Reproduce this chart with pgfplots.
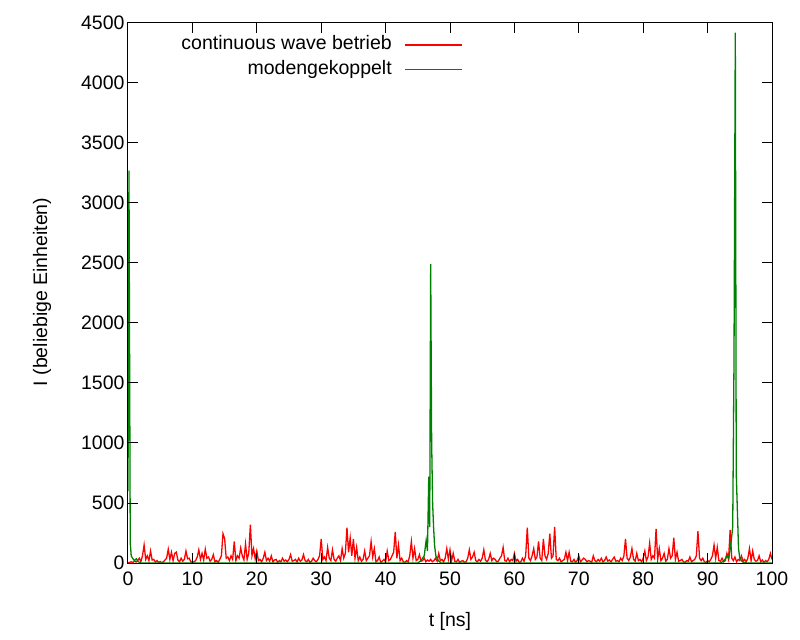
\documentclass[border=0pt]{standalone}
\usepackage{fontspec}
\setmainfont{Liberation Sans}
\usepackage{pgfplots}
\pgfplotsset{compat=1.18}
\definecolor{gpgreen}{RGB}{0,128,0}
\begin{document}
\begin{tikzpicture}
\begin{axis}[
 scale only axis, width=644bp, height=540bp,
 xmin=0,xmax=100,ymin=0,ymax=4500,
 xtick={0,10,...,100}, ytick={0,500,...,4500},
 tick align=inside, tick pos=both, major tick length=10bp,
 axis line style={line width=1bp}, tick style={line width=1bp, black},
 /pgf/number format/assume math mode=true,
 /pgf/number format/1000 sep={},
 scaled ticks=false,
 tick label style={font=\fontsize{19.5bp}{23bp}\selectfont},
 label style={font=\fontsize{19.5bp}{23bp}\selectfont},
 xticklabel style={yshift=-5bp},
 xlabel={t [ns]}, ylabel={I (beliebige Einheiten)},
 xlabel style={at={(axis description cs:0.5,-0.109)},anchor=center},
 ylabel style={at={(axis description cs:-0.1335,0.502)},anchor=center},
 axis on top,
]
\addplot[red, line width=1.3bp] coordinates {
(0.00,0)(0.25,5)(0.50,10)(0.75,3)(1.00,15)(1.25,8)(1.50,20)(1.75,40)
(2.00,12)(2.25,60)(2.50,150)(2.75,30)(3.00,60)(3.25,20)(3.50,100)(3.75,25)
(4.00,30)(4.25,8)(4.50,20)(4.75,5)(5.00,12)(5.25,3)(5.50,10)(5.75,25)
(6.00,40)(6.25,115)(6.50,30)(6.75,90)(7.00,20)(7.25,80)(7.50,90)(7.75,25)
(8.00,10)(8.25,40)(8.50,15)(8.75,30)(9.00,100)(9.25,35)(9.50,40)(9.75,10)
(10.00,5)(10.25,10)(10.50,20)(10.75,50)(11.00,110)(11.25,30)(11.50,80)(11.75,25)
(12.00,115)(12.25,40)(12.50,50)(12.75,15)(13.00,30)(13.25,70)(13.50,10)(13.75,20)
(14.00,5)(14.25,30)(14.50,60)(14.75,245)(15.00,205)(15.25,40)(15.50,50)(15.75,20)
(16.00,60)(16.25,30)(16.50,180)(16.75,20)(17.00,60)(17.25,40)(17.50,125)(17.75,60)
(18.00,25)(18.25,160)(18.50,30)(18.75,80)(19.00,320)(19.25,60)(19.50,120)(19.75,35)
(20.00,100)(20.25,20)(20.50,30)(20.75,10)(21.00,40)(21.25,90)(21.50,20)(21.75,40)
(22.00,15)(22.25,60)(22.50,10)(22.75,25)(23.00,30)(23.25,5)(23.50,20)(23.75,10)
(24.00,40)(24.25,15)(24.50,25)(24.75,10)(25.00,30)(25.25,70)(25.50,15)(25.75,20)
(26.00,30)(26.25,8)(26.50,40)(26.75,15)(27.00,25)(27.25,70)(27.50,20)(27.75,10)
(28.00,30)(28.25,5)(28.50,15)(28.75,40)(29.00,20)(29.25,10)(29.50,30)(29.75,60)
(30.00,200)(30.25,30)(30.50,50)(30.75,20)(31.00,130)(31.25,40)(31.50,20)(31.75,110)
(32.00,30)(32.25,15)(32.50,40)(32.75,60)(33.00,20)(33.25,120)(33.50,40)(33.75,80)
(34.00,295)(34.25,90)(34.50,210)(34.75,60)(35.00,200)(35.25,40)(35.50,130)(35.75,20)
(36.00,50)(36.25,15)(36.50,30)(36.75,100)(37.00,20)(37.25,40)(37.50,60)(37.75,180)
(38.00,50)(38.25,120)(38.50,10)(38.75,20)(39.00,50)(39.25,5)(39.50,15)(39.75,30)
(40.00,10)(40.25,100)(40.50,20)(40.75,30)(41.00,60)(41.25,90)(41.50,260)(41.75,40)
(42.00,150)(42.25,20)(42.50,40)(42.75,10)(43.00,5)(43.25,20)(43.50,10)(43.75,60)
(44.00,180)(44.25,40)(44.50,120)(44.75,20)(45.00,30)(45.25,70)(45.50,15)(45.75,20)
(46.00,40)(46.25,10)(46.50,25)(46.75,15)(47.00,30)(47.25,10)(47.50,20)(47.75,40)
(48.00,15)(48.25,80)(48.50,20)(48.75,30)(49.00,10)(49.25,40)(49.50,120)(49.75,30)
(50.00,110)(50.25,20)(50.50,80)(50.75,15)(51.00,10)(51.25,30)(51.50,5)(51.75,15)
(52.00,20)(52.25,5)(52.50,10)(52.75,40)(53.00,110)(53.25,30)(53.50,50)(53.75,90)
(54.00,20)(54.25,10)(54.50,30)(54.75,15)(55.00,40)(55.25,110)(55.50,25)(55.75,10)
(56.00,30)(56.25,80)(56.50,20)(56.75,40)(57.00,30)(57.25,10)(57.50,15)(57.75,40)
(58.00,60)(58.25,130)(58.50,20)(58.75,15)(59.00,40)(59.25,10)(59.50,30)(59.75,20)
(60.00,80)(60.25,15)(60.50,30)(60.75,5)(61.00,10)(61.25,40)(61.50,15)(61.75,60)
(62.00,295)(62.25,40)(62.50,20)(62.75,60)(63.00,120)(63.25,30)(63.50,50)(63.75,180)
(64.00,40)(64.25,20)(64.50,200)(64.75,60)(65.00,30)(65.25,80)(65.50,245)(65.75,40)
(66.00,60)(66.25,300)(66.50,30)(66.75,20)(67.00,40)(67.25,10)(67.50,20)(67.75,30)
(68.00,90)(68.25,20)(68.50,90)(68.75,15)(69.00,10)(69.25,30)(69.50,5)(69.75,20)
(70.00,60)(70.25,10)(70.50,25)(70.75,40)(71.00,30)(71.25,10)(71.50,20)(71.75,15)
(72.00,5)(72.25,60)(72.50,20)(72.75,10)(73.00,30)(73.25,15)(73.50,40)(73.75,10)
(74.00,20)(74.25,50)(74.50,15)(74.75,25)(75.00,10)(75.25,30)(75.50,50)(75.75,15)
(76.00,20)(76.25,10)(76.50,40)(76.75,20)(77.00,60)(77.25,200)(77.50,40)(77.75,20)
(78.00,50)(78.25,120)(78.50,30)(78.75,15)(79.00,80)(79.25,20)(79.50,30)(79.75,10)
(80.00,40)(80.25,100)(80.50,20)(80.75,50)(81.00,165)(81.25,30)(81.50,60)(81.75,40)
(82.00,285)(82.25,30)(82.50,120)(82.75,20)(83.00,40)(83.25,80)(83.50,15)(83.75,30)
(84.00,120)(84.25,40)(84.50,60)(84.75,210)(85.00,30)(85.25,90)(85.50,15)(85.75,20)
(86.00,30)(86.25,10)(86.50,5)(86.75,20)(87.00,15)(87.25,50)(87.50,10)(87.75,20)
(88.00,30)(88.25,60)(88.50,265)(88.75,40)(89.00,20)(89.25,40)(89.50,10)(89.75,5)
(90.00,20)(90.25,10)(90.50,30)(90.75,60)(91.00,150)(91.25,40)(91.50,130)(91.75,20)
(92.00,15)(92.25,40)(92.50,10)(92.75,20)(93.00,80)(93.25,30)(93.50,275)(93.75,40)
(94.00,20)(94.25,50)(94.50,10)(94.75,30)(95.00,20)(95.25,60)(95.50,15)(95.75,30)
(96.00,10)(96.25,40)(96.50,120)(96.75,20)(97.00,100)(97.25,30)(97.50,15)(97.75,20)
(98.00,60)(98.25,10)(98.50,25)(98.75,5)(99.00,20)(99.25,10)(99.50,30)(99.75,80)
(100.00,30)
};
\addplot[gpgreen, line width=1.3bp] coordinates {
(0.00,600)(0.15,3270)(0.35,170)(0.50,60)(0.70,40)(1.00,20)(1.30,35)(1.60,10)(2.00,0)
(45.00,0)(45.50,20)(46.00,60)(46.30,190)(46.50,100)(46.70,720)(46.85,300)(47.00,2490)
(47.15,1010)(47.30,500)(47.45,300)(47.60,150)(47.80,60)(48.20,20)(48.60,0)
(92.00,0)(92.60,20)(93.00,60)(93.30,40)(93.60,150)(93.90,300)(94.10,1700)(94.30,4420)
(94.45,740)(94.60,480)(94.80,120)(95.00,40)(95.40,10)(96.00,0)(100.00,0)
};
% legend
\draw[red, line width=1.1bp] (axis description cs:0.4301,0.9593) -- (axis description cs:0.5186,0.9593);
\draw[gpgreen, line width=1.1bp] (axis description cs:0.4301,0.9139) -- (axis description cs:0.5186,0.9139);
\node[anchor=base east, inner sep=0pt, font=\fontsize{19.5bp}{23bp}\selectfont]
  at (axis description cs:0.4099,0.950) {continuous wave betrieb};
\node[anchor=base east, inner sep=0pt, font=\fontsize{19.5bp}{23bp}\selectfont]
  at (axis description cs:0.4099,0.9046) {modengekoppelt};
\end{axis}
\pgfresetboundingbox
\path ([xshift=-128bp,yshift=-77bp]current axis.south west) rectangle ([xshift=28bp,yshift=23bp]current axis.north east);
\end{tikzpicture}
\end{document}
